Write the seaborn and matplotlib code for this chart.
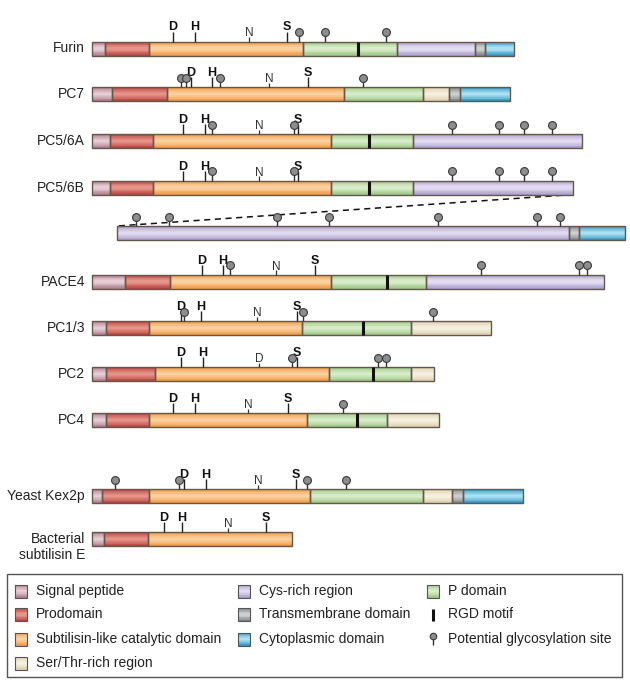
import numpy as np
import pandas as pd
import matplotlib
matplotlib.use("Agg")
import matplotlib.pyplot as plt
import seaborn as sns

# ---------------- data ----------------
# row names and vertical position of each row
row_names = ["Furin", "PC7", "PC5/6A", "PC5/6B", "", "PACE4", "PC1/3", "PC2", "PC4",
             "Yeast Kex2p", "Bacterial\nsubtilisin E"]
row_y = [48.5, 94, 141, 187.5, 233, 281.5, 328, 374, 420, 496, 539]

# domain boundaries (diagram units) and domain types per row
furin_b = [92, 105, 149, 303, 397, 475, 485, 514]
furin_t = ["SP", "PRO", "CAT", "P", "CYS", "TM", "CYT"]
pc7_b = [92, 112, 167, 344, 423, 449, 460, 510]
pc7_t = ["SP", "PRO", "CAT", "P", "ST", "TM", "CYT"]
pc56a_b = [92, 110, 153, 331, 413, 582]
pc56a_t = ["SP", "PRO", "CAT", "P", "CYS"]
pc56b_b = [92, 110, 153, 331, 413, 573]
pc56b_t = ["SP", "PRO", "CAT", "P", "CYS"]
ext_b = [117, 569, 579, 625]
ext_t = ["CYS", "TM", "CYT"]
pace4_b = [92, 125, 170, 331, 426, 604]
pace4_t = ["SP", "PRO", "CAT", "P", "CYS"]
pc13_b = [92, 106, 149, 302, 411, 491]
pc13_t = ["SP", "PRO", "CAT", "P", "ST"]
pc2_b = [92, 106, 155, 329, 411, 434]
pc2_t = ["SP", "PRO", "CAT", "P", "ST"]
pc4_b = [92, 106, 149, 307, 387, 439]
pc4_t = ["SP", "PRO", "CAT", "P", "ST"]
kex2_b = [92, 102, 149, 310, 423, 452, 463, 523]
kex2_t = ["SP", "PRO", "CAT", "P", "ST", "TM", "CYT"]
subE_b = [92, 104, 148, 292]
subE_t = ["SP", "PRO", "CAT"]

row_bounds = [furin_b, pc7_b, pc56a_b, pc56b_b, ext_b, pace4_b, pc13_b, pc2_b, pc4_b, kex2_b, subE_b]
row_types = [furin_t, pc7_t, pc56a_t, pc56b_t, ext_t, pace4_t, pc13_t, pc2_t, pc4_t, kex2_t, subE_t]

# RGD motif positions
row_rgd = [[358], [], [369], [369], [], [387], [363], [373], [357], [], []]

# catalytic residues (letter, position, is catalytic triad)
row_letters = [
    [("D", 173, True), ("H", 195, True), ("N", 249, False), ("S", 287, True)],
    [("D", 191, True), ("H", 212, True), ("N", 269, False), ("S", 308, True)],
    [("D", 183, True), ("H", 205, True), ("N", 259, False), ("S", 298, True)],
    [("D", 183, True), ("H", 205, True), ("N", 259, False), ("S", 298, True)],
    [],
    [("D", 202, True), ("H", 223, True), ("N", 276, False), ("S", 315, True)],
    [("D", 181, True), ("H", 201, True), ("N", 257, False), ("S", 297, True)],
    [("D", 181, True), ("H", 203, True), ("D", 259, False), ("S", 297, True)],
    [("D", 173, True), ("H", 195, True), ("N", 248, False), ("S", 288, True)],
    [("D", 184, True), ("H", 206, True), ("N", 258, False), ("S", 296, True)],
    [("D", 164, True), ("H", 182, True), ("N", 228, False), ("S", 266, True)],
]

# potential glycosylation sites
row_glyco = [
    [299, 325, 386],
    [181, 186, 220, 363],
    [212, 294, 452, 499, 524, 552],
    [212, 294, 452, 499, 524, 552],
    [136, 169, 277, 329, 438, 537, 560],
    [230, 481, 579, 587],
    [184, 303, 433],
    [292, 378, 386],
    [343],
    [115, 179, 307, 346],
    [],
]

legend_labels = ["Signal peptide", "Prodomain", "Subtilisin-like catalytic domain", "Ser/Thr-rich region",
                 "Cys-rich region", "Transmembrane domain", "Cytoplasmic domain",
                 "P domain", "RGD motif", "Potential glycosylation site"]
legend_keys = ["SP", "PRO", "CAT", "ST", "CYS", "TM", "CYT", "P", "RGD", "GLY"]

# ---------------- styles ----------------
dom_col = {
    "SP": ("#b07e8e", "#e6ccd3"),
    "PRO": ("#b8443f", "#e69388"),
    "CAT": ("#ef9a46", "#fbd09f"),
    "P": ("#9cc684", "#d8ecca"),
    "CYS": ("#ab9fcd", "#e2dcf0"),
    "TM": ("#7f8489", "#cdd0d2"),
    "CYT": ("#3298c6", "#ace0f0"),
    "ST": ("#dccfae", "#f6f0e0"),
}
EDGE = "#66574b"
BAR_H = 14

sns.set_theme(style="white")
plt.rcParams["font.family"] = ["Liberation Sans", "DejaVu Sans"]

fig = plt.figure(figsize=(6.3, 6.8), dpi=100)
ax = fig.add_axes([0, 0, 1, 1])


def mix(c1, c2, t):
    a = np.array(matplotlib.colors.to_rgb(c1))
    b = np.array(matplotlib.colors.to_rgb(c2))
    return tuple(a + (b - a) * t)


# collect segments
segs = []
for yc, b, t in zip(row_y, row_bounds, row_types):
    for i, d in enumerate(t):
        segs.append((yc, b[i], b[i + 1] - b[i], d))
seg_df = pd.DataFrame(segs, columns=["y", "left", "width", "dom"])

# gradient-like shading with layered bars
NL = 8
for k in range(NL):
    frac = k / (NL - 1)
    h = BAR_H * (1 - 0.9 * k / NL)
    cols = [mix(dom_col[d][0], dom_col[d][1], frac) for d in seg_df["dom"]]
    ax.barh(seg_df["y"], seg_df["width"], left=seg_df["left"], height=h,
            color=cols, edgecolor="none", linewidth=0, zorder=2)
ax.barh(seg_df["y"], seg_df["width"], left=seg_df["left"], height=BAR_H,
        fill=False, edgecolor=EDGE, linewidth=1.0, zorder=3)

# RGD motifs
for yc, rg in zip(row_y, row_rgd):
    if rg:
        ax.vlines(rg, yc - BAR_H / 2, yc + BAR_H / 2, color="#111111", linewidth=2.2, zorder=4)

# catalytic residues
for yc, lets in zip(row_y, row_letters):
    top = yc - BAR_H / 2
    for (L, x, cat) in lets:
        if cat:
            ax.vlines(x, top - 10, top, color="#222222", linewidth=1.0, zorder=4)
            ax.text(x, top - 11, L, ha="center", va="baseline", fontsize=9,
                    fontweight="bold", color="#111111", zorder=5)
        else:
            ax.vlines(x, top - 4.5, top, color="#333333", linewidth=0.9, zorder=4)
            ax.text(x, top - 5, L, ha="center", va="baseline", fontsize=8.5,
                    color="#333333", zorder=5)

# glycosylation sites
gly = []
for yc, gs in zip(row_y, row_glyco):
    for x in gs:
        gly.append((x, yc - BAR_H / 2 - 9.5, yc - BAR_H / 2))
gly_df = pd.DataFrame(gly, columns=["x", "y", "base"])
ax.vlines(gly_df["x"], gly_df["y"], gly_df["base"], color="#333333", linewidth=1.0, zorder=4)
sns.scatterplot(data=gly_df, x="x", y="y", ax=ax, s=32, color="#8d8d8d",
                edgecolor="#3a3a3a", linewidth=0.8, zorder=6, legend=False)

# dashed line linking PC5/6B to its extension
ax.plot([pc56b_b[-1], ext_b[0]], [row_y[3] + BAR_H / 2, row_y[4] - BAR_H / 2],
        color="#111111", linestyle=(0, (4, 3)), linewidth=1.1, zorder=1)

# row labels
for name, yc in zip(row_names, row_y):
    if not name:
        continue
    if "\n" in name:
        ax.text(85, yc + 8, name, ha="right", va="center", fontsize=10,
                color="#222222", linespacing=1.2)
    else:
        ax.text(85, yc, name, ha="right", va="center", fontsize=10, color="#222222")

# ---------------- legend ----------------
ax.add_patch(plt.Rectangle((6.5, 574), 615.5, 103, fill=False, edgecolor="#555555",
                           linewidth=1.0, zorder=1))
leg_x = [15, 15, 15, 15, 238, 238, 238, 427, 427, 427]
leg_y = [591, 614.5, 639, 663, 591, 614.5, 639, 591, 614.5, 639]
for lab, key, lx, ly in zip(legend_labels, legend_keys, leg_x, leg_y):
    if key in dom_col:
        for k in range(NL):
            frac = k / (NL - 1)
            h = 13 * (1 - 0.9 * k / NL)
            ax.barh([ly], [12], left=[lx], height=h,
                    color=[mix(dom_col[key][0], dom_col[key][1], frac)],
                    edgecolor="none", linewidth=0, zorder=2)
        ax.barh([ly], [12], left=[lx], height=13, fill=False, edgecolor="#555555",
                linewidth=0.8, zorder=3)
    elif key == "RGD":
        ax.vlines(lx + 6, ly - 6, ly + 6, color="#111111", linewidth=2.2, zorder=4)
    elif key == "GLY":
        ax.vlines(lx + 6, ly - 2, ly + 6, color="#333333", linewidth=1.0, zorder=4)
        ax.scatter([lx + 6], [ly - 3], s=22, color="#8d8d8d", edgecolor="#3a3a3a",
                   linewidth=0.8, zorder=6)
    ax.text(lx + 21, ly, lab, ha="left", va="center", fontsize=10, color="#222222")

ax.set_xlim(0, 630)
ax.set_ylim(680, 0)
ax.axis("off")

fig.savefig("out.png", dpi=100, facecolor="white")
